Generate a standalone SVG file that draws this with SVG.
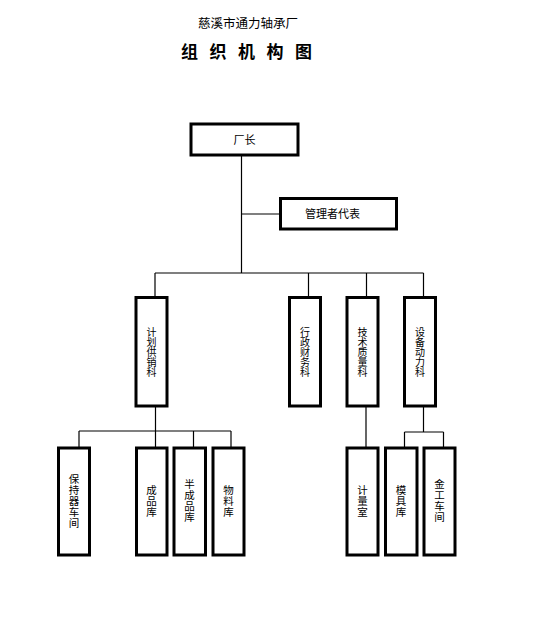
<svg xmlns="http://www.w3.org/2000/svg" width="536" height="617" viewBox="0 0 536 617">
<style>
.box{fill:#fff;stroke:#000;stroke-width:3}
.ln{stroke:#000;stroke-width:1.2;fill:none}
text{font-family:"Noto Sans CJK SC","Noto Sans CJK JP",sans-serif;fill:#000}
.t{font-size:11px;text-anchor:middle}
.v{font-size:10px;text-anchor:middle;writing-mode:vertical-rl}
.vb{font-size:10.5px;letter-spacing:0.5px;text-anchor:middle;writing-mode:vertical-rl}
</style>
<rect width="536" height="617" fill="#fff"/>
<text x="248" y="28" style="font-size:12.5px;text-anchor:middle">慈溪市通力轴承厂</text>
<text x="181 209.5 238 266.5 295" y="58" style="font-size:17px;font-weight:bold">组织机构图</text>
<g id="connectors">
<path class="ln" d="M241.5 155V273M241.5 214H280M155 273H423.5M155 273V297M308.5 273V297M366.5 273V297M423.5 273V297"/>
<path class="ln" d="M155.5 406V447.5M79 431H231M193.5 431V447.5M231 431V447.5M79 431V447.5"/>
<path class="ln" d="M366 406V447.5M423.5 406V432M404.5 432H443.5M404.5 432V447.5M443.5 432V447.5"/>
</g>
<g id="n_changzhang"><rect class="box" x="191" y="124" width="107" height="31"/><text class="t" x="244.5" y="144">厂长</text></g>
<g id="n_guanli"><rect class="box" x="280.5" y="198.5" width="116" height="30.5"/><text class="t" x="332.5" y="218">管理者代表</text></g>
<g id="n_jihua"><rect class="box" x="136" y="297.5" width="31" height="108.5"/><text class="v" x="151.5" y="352.5">计划供销科</text></g>
<g id="n_xingzheng"><rect class="box" x="289.5" y="297.5" width="31" height="108.5"/><text class="v" x="305" y="352.5">行政财务科</text></g>
<g id="n_jishu"><rect class="box" x="347" y="297.5" width="31" height="108.5"/><text class="v" x="362.5" y="352.5">技术质量科</text></g>
<g id="n_shebei"><rect class="box" x="404.5" y="297.5" width="31" height="108.5"/><text class="v" x="420" y="352.5">设备动力科</text></g>
<g id="n_baochiqi"><rect class="box" x="58.5" y="448" width="31" height="107"/><text class="vb" x="74" y="501">保持器车间</text></g>
<g id="n_chengpin"><rect class="box" x="136.5" y="448" width="30.5" height="107"/><text class="vb" x="151.5" y="501">成品库</text></g>
<g id="n_banchengpin"><rect class="box" x="174" y="448" width="31.5" height="107"/><text class="vb" x="189.5" y="501">半成品库</text></g>
<g id="n_wuliao"><rect class="box" x="213" y="448" width="31" height="107"/><text class="vb" x="228.5" y="501">物料库</text></g>
<g id="n_jiliang"><rect class="box" x="347" y="448" width="31" height="107"/><text class="vb" x="362.5" y="501">计量室</text></g>
<g id="n_moju"><rect class="box" x="385.5" y="448" width="31.5" height="107"/><text class="vb" x="401" y="501">模具库</text></g>
<g id="n_jingong"><rect class="box" x="424" y="448" width="31" height="107"/><text class="vb" x="439.5" y="501">金工车间</text></g>
</svg>
